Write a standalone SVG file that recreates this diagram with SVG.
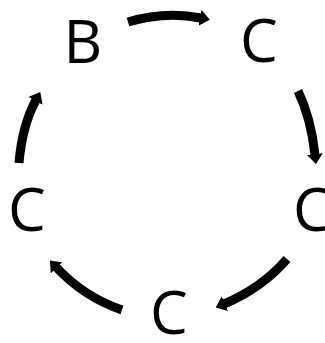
<svg xmlns="http://www.w3.org/2000/svg" width="325" height="343" viewBox="0 0 325 343">
<style>
.lbl{font-family:"Open Sans","Noto Sans",sans-serif;font-size:60px;fill:#000;text-anchor:middle}
.arr{fill:none;stroke:#000;stroke-width:9;marker-end:url(#ah)}
</style>
<defs>
<marker id="ah" markerUnits="userSpaceOnUse" viewBox="0 -8 10 16" markerWidth="10" markerHeight="16" refX="1" refY="0" orient="auto">
<path d="M0,-8 L10,0 L0,8 z" fill="#000"/>
</marker>
</defs>
<rect width="325" height="343" fill="#fff"/>
<g id="connectors">
<path class="arr" d="M128,22 Q165,11 201,18"/>
<path class="arr" d="M298,91 Q311,118 315,155"/>
<path class="arr" d="M287,259 Q262,288 224,304"/>
<path class="arr" d="M122,310 Q84,297 56,267"/>
<path class="arr" d="M19,163 Q22,126 36,100"/>
</g>
<g id="nB"><text class="lbl" x="83" y="63">B</text></g>
<g id="nC1"><text class="lbl" x="259" y="62">C</text></g>
<g id="nC2"><text class="lbl" x="312" y="231">C</text></g>
<g id="nC3"><text class="lbl" x="169" y="334">C</text></g>
<g id="nC4"><text class="lbl" x="27" y="231">C</text></g>
</svg>
